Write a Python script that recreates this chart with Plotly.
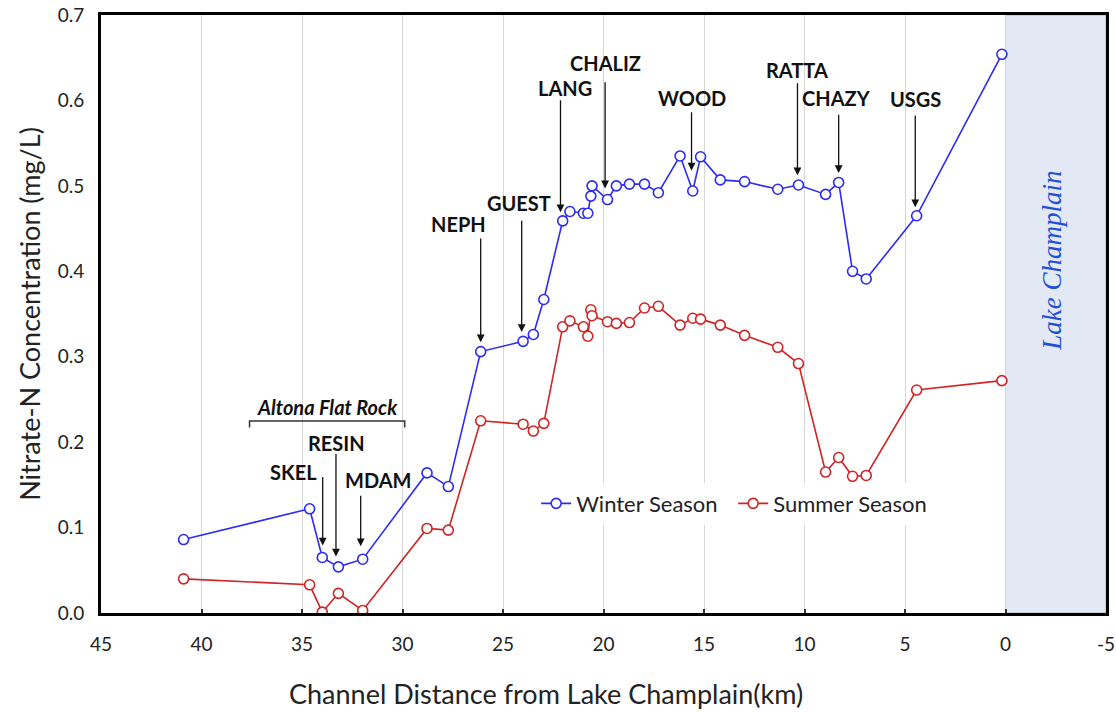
import plotly.graph_objects as go

# ---------------- data ----------------
distance_km = [40.89, 34.62, 33.99, 33.19, 31.98, 28.78, 27.72, 26.11, 24.00, 23.49,
               22.97, 22.03, 21.67, 21.00, 20.78, 20.63, 20.57, 19.80, 19.36, 18.71,
               17.96, 17.27, 16.19, 15.56, 15.17, 14.19, 12.98, 11.33, 10.30, 8.95,
               8.30, 7.61, 6.93, 4.42, 0.18]

winter = [0.086, 0.122, 0.065, 0.054, 0.063, 0.164, 0.148, 0.306, 0.318, 0.326,
          0.367, 0.459, 0.470, 0.468, 0.468, 0.488, 0.500, 0.484, 0.500, 0.502,
          0.502, 0.492, 0.535, 0.494, 0.534, 0.507, 0.505, 0.496, 0.501, 0.490,
          0.504, 0.400, 0.391, 0.465, 0.654]

summer = [0.040, 0.033, 0.001, 0.023, 0.003, 0.099, 0.097, 0.225, 0.221, 0.213,
          0.222, 0.335, 0.342, 0.335, 0.324, 0.355, 0.348, 0.341, 0.339, 0.340,
          0.357, 0.359, 0.337, 0.345, 0.344, 0.337, 0.325, 0.311, 0.292, 0.165,
          0.182, 0.160, 0.161, 0.261, 0.272]

station_names = ["SKEL", "RESIN", "MDAM", "NEPH", "GUEST", "LANG", "CHALIZ",
                 "WOOD", "RATTA", "CHAZY", "USGS"]
station_arrow_x = [33.97, 33.31, 32.08, 26.11, 24.07, 22.14, 19.92, 15.62, 10.35, 8.30, 4.49]
station_arrow_tail = [0.161, 0.188, 0.139, 0.440, 0.461, 0.602, 0.623, 0.588, 0.622, 0.585, 0.584]
station_arrow_head = [0.079, 0.066, 0.078, 0.317, 0.329, 0.469, 0.497, 0.518, 0.5125, 0.515, 0.475]
station_label_x = [35.42, 33.29, 31.20, 27.21, 24.22, 21.93, 19.89, 15.62, 10.38, 8.41, 4.46]
station_label_y = [0.1646, 0.1986, 0.1552, 0.4551, 0.4797, 0.6145, 0.6438, 0.6027, 0.6356, 0.6027, 0.6016]

altona_span = [37.61, 29.89]
altona_y = 0.2247
altona_label = "Altona Flat Rock"

lake_span = [0, -5]
x_ticks = [45, 40, 35, 30, 25, 20, 15, 10, 5, 0, -5]
y_ticks = [0.0, 0.1, 0.2, 0.3, 0.4, 0.5, 0.6, 0.7]

BLUE = "#2B2BF5"
RED = "#D02424"
FONT = "Lato"

fig = go.Figure()

fig.add_trace(go.Scatter(
    x=distance_km, y=winter, mode="lines+markers", name="Winter Season",
    line=dict(color=BLUE, width=1.6),
    marker=dict(symbol="circle", size=10, color="white", line=dict(color=BLUE, width=1.6)),
))
fig.add_trace(go.Scatter(
    x=distance_km, y=summer, mode="lines+markers", name="Summer Season",
    line=dict(color=RED, width=1.6),
    marker=dict(symbol="circle", size=10, color="white", line=dict(color=RED, width=1.6)),
))

# Lake Champlain shaded area
fig.add_shape(type="rect", xref="x", yref="y", x0=lake_span[0], x1=lake_span[1],
              y0=y_ticks[0], y1=y_ticks[-1], fillcolor="#E3E9F4",
              line=dict(color="#A8B3C3", width=1), layer="below")
fig.add_annotation(x=sum(lake_span) / 2 + 0.2, y=0.412, xref="x", yref="y",
                   text="<i>Lake Champlain</i>", showarrow=False, textangle=-90,
                   font=dict(family="Liberation Serif", size=27, color="#1F4FD6"))

# Altona Flat Rock bracket
drop = 0.0075
fig.add_shape(type="path", xref="x", yref="y",
              path=(f"M {altona_span[0]} {altona_y - drop} L {altona_span[0]} {altona_y} "
                    f"L {altona_span[1]} {altona_y} L {altona_span[1]} {altona_y - drop}"),
              line=dict(color="#333333", width=1.5))
fig.add_annotation(x=sum(altona_span) / 2, y=altona_y + 0.016, xref="x", yref="y",
                   text=f"<b><i>{altona_label}</i></b>", showarrow=False,
                   font=dict(family=FONT, size=20, color="#111111"))

# station labels and arrows
for name, ax_, yt, yh, lx, ly in zip(station_names, station_arrow_x, station_arrow_tail,
                                     station_arrow_head, station_label_x, station_label_y):
    fig.add_annotation(x=ax_, y=yh, ax=ax_, ay=yt, xref="x", yref="y", axref="x", ayref="y",
                       text="", showarrow=True, arrowhead=2, arrowsize=1.2,
                       arrowwidth=1.3, arrowcolor="#111111")
    fig.add_annotation(x=lx, y=ly, xref="x", yref="y", text=f"<b>{name}</b>",
                       showarrow=False, font=dict(family=FONT, size=20, color="#111111"))

# x axis title placed as a paper annotation (off-centre like the original)
fig.add_annotation(x=0.443, y=-0.135, xref="paper", yref="paper",
                   text="Channel Distance from Lake Champlain(km)", showarrow=False,
                   xanchor="center", yanchor="middle",
                   font=dict(family=FONT, size=27, color="#222222"))

fig.update_layout(
    width=1116, height=713,
    margin=dict(l=101, r=10, t=15, b=100),
    plot_bgcolor="white", paper_bgcolor="white",
    font=dict(family=FONT, size=19, color="#222222"),
    showlegend=True,
    legend=dict(orientation="h", x=0.433, y=0.183, xanchor="left", yanchor="middle",
                bgcolor="white", font=dict(family=FONT, size=22, color="#222222"),
                itemwidth=30, tracegroupgap=0, entrywidth=152, entrywidthmode="pixels"),
)
fig.update_xaxes(
    range=[45, -5], tickvals=x_ticks, ticktext=[str(v) for v in x_ticks],
    showgrid=True, gridcolor="#D6D6D6", gridwidth=1, zeroline=False,
    showline=True, linecolor="black", linewidth=3, mirror=True,
    ticks="inside", ticklen=4, tickwidth=2, tickcolor="#333333",
    ticklabelstandoff=12, tickfont=dict(size=19), automargin=False,
)
fig.update_yaxes(
    range=[0, 0.7], tickvals=y_ticks, tickformat=".1f",
    showgrid=False, zeroline=False,
    showline=True, linecolor="black", linewidth=3, mirror=True,
    ticks="", ticklabelstandoff=10, tickfont=dict(size=19), automargin=False,
    title=dict(text="Nitrate-N Concentration (mg/L)", font=dict(size=27), standoff=10),
)

fig.write_html("out.html")
